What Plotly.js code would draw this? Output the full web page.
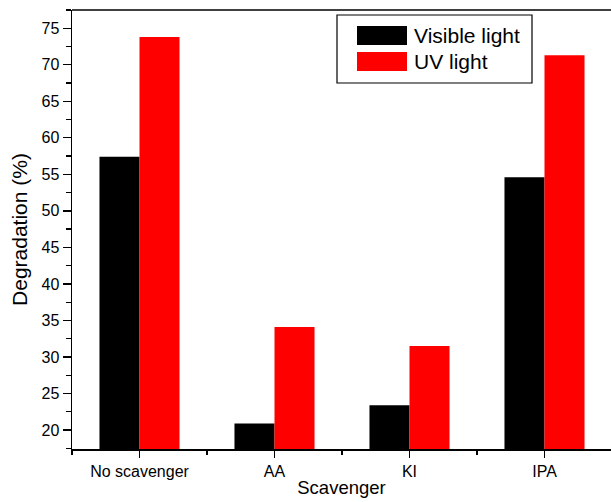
<!DOCTYPE html>
<html>
<head>
<meta charset="utf-8">
<script src="https://cdn.plot.ly/plotly-3.0.1.min.js"></script>
<style>html,body{margin:0;padding:0;background:#fff;overflow:hidden}</style>
</head>
<body>
<div id="chart" style="width:611px;height:502px"></div>
<script>
const categories = ["No scavenger", "AA", "KI", "IPA"];
const visibleLight = [57.4, 20.9, 23.4, 54.6];
const uvLight = [73.8, 34.1, 31.5, 71.3];
const seriesNames = ["Visible light", "UV light"];
const seriesColors = ["#000000", "#ff0000"];

const xIdx = categories.map((_, i) => i);

// plot area in pixels
const L = 72, T = 10, W = 611, H = 502, B = 449, R = 611;
const pw = R - L, ph = B - T;
const px = x => (x - L) / pw;
const py = y => (B - y) / ph;

const font = "Liberation Sans, Arial, sans-serif";

const traces = [
  {type: "bar", name: seriesNames[0], x: xIdx, y: visibleLight,
   marker: {color: seriesColors[0], line: {width: 0}}, showlegend: false},
  {type: "bar", name: seriesNames[1], x: xIdx, y: uvLight,
   marker: {color: seriesColors[1], line: {width: 0}}, showlegend: false}
];

const shapes = [
  // top border
  {type: "line", xref: "paper", yref: "paper", x0: 0, x1: 1, y0: 1, y1: 1,
   line: {color: "#000", width: 1.5}},
  // legend box
  {type: "rect", xref: "paper", yref: "paper", x0: px(337), x1: px(532), y0: py(83), y1: py(15),
   line: {color: "#000", width: 1.2}, fillcolor: "rgba(255,255,255,1)"},
  {type: "rect", xref: "paper", yref: "paper", x0: px(357), x1: px(407), y0: py(45), y1: py(26),
   line: {width: 0}, fillcolor: seriesColors[0]},
  {type: "rect", xref: "paper", yref: "paper", x0: px(357), x1: px(407), y0: py(71), y1: py(52),
   line: {width: 0}, fillcolor: seriesColors[1]}
];

const annotations = [
  {xref: "paper", yref: "paper", x: px(412), y: py(35.5), xanchor: "left", yanchor: "middle",
   text: seriesNames[0], showarrow: false, font: {family: font, size: 21, color: "#000"}},
  {xref: "paper", yref: "paper", x: px(412), y: py(61.5), xanchor: "left", yanchor: "middle",
   text: seriesNames[1], showarrow: false, font: {family: font, size: 21, color: "#000"}}
];

const layout = {
  width: W, height: H,
  margin: {l: L, r: W - R, t: T, b: H - B, pad: 0},
  paper_bgcolor: "#fff", plot_bgcolor: "#fff",
  font: {family: font, color: "#000", size: 16},
  barmode: "group", bargap: 0.407, bargroupgap: 0,
  showlegend: false,
  xaxis: {
    range: [-0.5, -0.5 + pw / 135],
    tickmode: "array", tickvals: xIdx, ticktext: categories,
    ticks: "outside", ticklen: 7, tickwidth: 1.3, tickcolor: "#000",
    minor: {tickmode: "array", tickvals: xIdx.map(i => i + 0.5).concat([-0.5]), ticks: "outside", ticklen: 4, tickwidth: 1.3, tickcolor: "#000"},
    showline: true, linecolor: "#000", linewidth: 1.5,
    showgrid: false, zeroline: false,
    tickfont: {family: font, size: 16, color: "#000"},
    title: {text: "Scavenger", font: {family: font, size: 18.5, color: "#000"}, standoff: 2}
  },
  yaxis: {
    range: [17.4, 77.5],
    tick0: 0, dtick: 5,
    ticks: "outside", ticklen: 8, tickwidth: 1.3, tickcolor: "#000",
    minor: {tick0: 0, dtick: 2.5, ticks: "outside", ticklen: 5, tickwidth: 1.3, tickcolor: "#000"},
    showline: true, linecolor: "#000", linewidth: 1.5,
    showgrid: false, zeroline: false,
    tickfont: {family: font, size: 16, color: "#000"},
    title: {text: "Degradation (%)", font: {family: font, size: 21, color: "#000"}, standoff: 8}
  },
  shapes: shapes,
  annotations: annotations
};

Plotly.newPlot("chart", traces, layout, {displayModeBar: false, staticPlot: true});
</script>
</body>
</html>
